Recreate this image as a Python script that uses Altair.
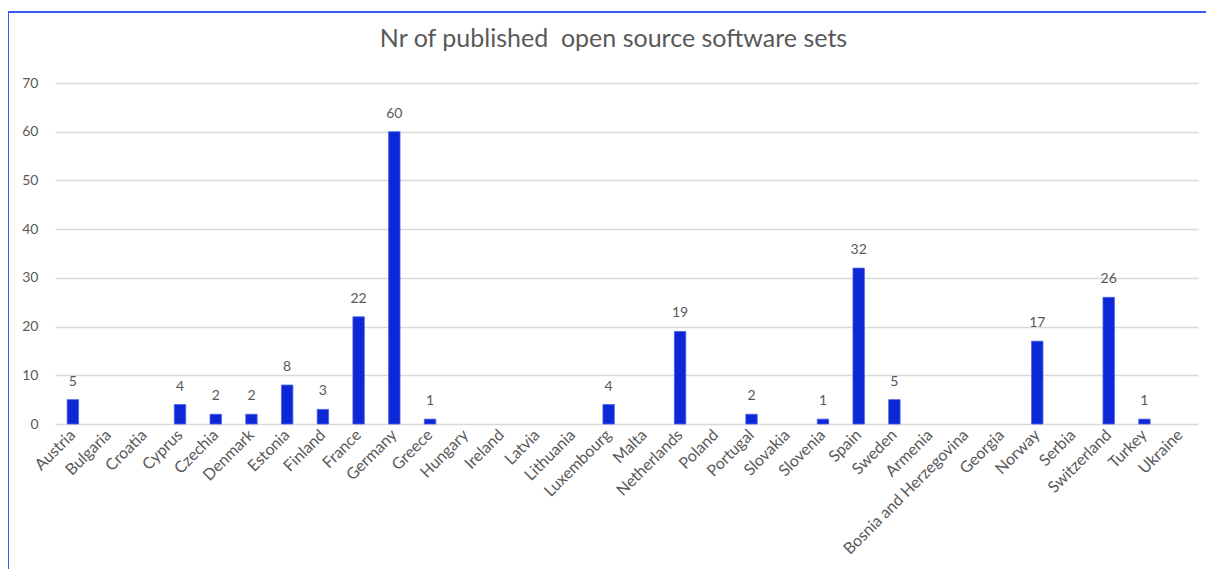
import altair as alt
import pandas as pd

countries = ["Austria", "Bulgaria", "Croatia", "Cyprus", "Czechia", "Denmark", "Estonia",
             "Finland", "France", "Germany", "Greece", "Hungary", "Ireland", "Latvia",
             "Lithuania", "Luxembourg", "Malta", "Netherlands", "Poland", "Portugal",
             "Slovakia", "Slovenia", "Spain", "Sweden", "Armenia", "Bosnia and Herzegovina",
             "Georgia", "Norway", "Serbia", "Switzerland", "Turkey", "Ukraine"]
values = [5, None, None, 4, 2, 2, 8, 3, 22, 60, 1, None, None, None, None, 4, None, 19,
          None, 2, None, 1, 32, 5, None, None, None, 17, None, 26, 1, None]

df = pd.DataFrame({"country": countries, "value": values})

FONT = "Lato"
GRAY = "#595959"
BLUE = "#0b27d6"

x = alt.X("country:N", sort=countries, title=None,
          scale=alt.Scale(paddingInner=0.68, paddingOuter=0.34),
          axis=alt.Axis(labelAngle=-45, labelAlign="right", labelBaseline="middle",
                        labelFontSize=16, labelColor=GRAY, labelFont=FONT,
                        ticks=False, domain=False, labelPadding=8, grid=False,
                        labelLimit=300))
y = alt.Y("value:Q", title=None,
          scale=alt.Scale(domain=[0, 70], nice=False),
          axis=alt.Axis(values=list(range(0, 71, 10)), labelFontSize=14, labelColor=GRAY,
                        labelFont=FONT, ticks=False, domain=False, labelPadding=17,
                        gridColor="#d9d9d9", gridWidth=1.6))

bars = alt.Chart(df).mark_bar(color=BLUE, stroke="#4a63e6", strokeWidth=0.8).encode(x=x, y=y)
labels = alt.Chart(df).mark_text(baseline="bottom", dy=-11, fontSize=14, color=GRAY,
                                 font=FONT).encode(x=x, y=y, text=alt.Text("value:Q"))

top_border = alt.Chart(df).mark_rule(color="#3a5bea", strokeWidth=1.5).encode(
    x=alt.value(-47), x2=alt.value(1160), y=alt.value(-71))
left_border = alt.Chart(df).mark_rule(color="#3a5bea", strokeWidth=1.5).encode(
    x=alt.value(-47), y=alt.value(-71), y2=alt.value(500))

chart = alt.layer(bars, labels, top_border, left_border).properties(
    width=1143, height=341,
    background="white",
    title=alt.TitleParams("Nr of published\u00a0 open source software sets", fontSize=25,
                          font=FONT, fontWeight="normal", color=GRAY, anchor="middle",
                          dx=-13, offset=-41),
    autosize=alt.AutoSizeParams(type="none"),
    padding={"left": 47, "top": 75, "right": 8, "bottom": 145},
).configure_view(stroke="transparent", strokeWidth=0)

chart.save("out.html", embed_options={"renderer": "svg", "actions": False})
